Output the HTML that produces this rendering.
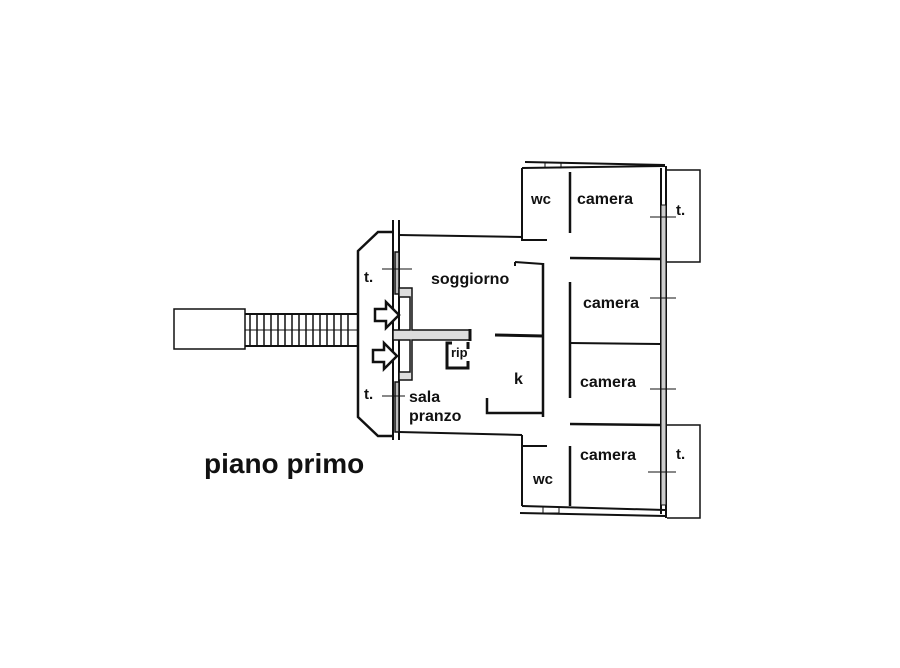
<!DOCTYPE html>
<html><head><style>
html,body{margin:0;padding:0;background:#fff;}
svg{display:block}
text{font-family:"Liberation Sans",sans-serif;font-weight:bold;fill:#111}
</style></head><body>
<svg width="900" height="668" viewBox="0 0 900 668" xmlns="http://www.w3.org/2000/svg">
<g stroke="#111" fill="none" stroke-width="2">
<!-- stairs -->
<rect x="174" y="309" width="71" height="40" stroke-width="1.5"/>
<line x1="245" y1="314" x2="358" y2="314"/>
<line x1="245" y1="346" x2="358" y2="346"/>
<line x1="245" y1="330" x2="358" y2="330" stroke-width="1"/>
<g stroke-width="1.5">
<line x1="250" y1="314" x2="250" y2="346"/><line x1="257" y1="314" x2="257" y2="346"/><line x1="264" y1="314" x2="264" y2="346"/><line x1="271" y1="314" x2="271" y2="346"/><line x1="278" y1="314" x2="278" y2="346"/><line x1="285" y1="314" x2="285" y2="346"/><line x1="292" y1="314" x2="292" y2="346"/><line x1="299" y1="314" x2="299" y2="346"/><line x1="306" y1="314" x2="306" y2="346"/><line x1="313" y1="314" x2="313" y2="346"/><line x1="320" y1="314" x2="320" y2="346"/><line x1="327" y1="314" x2="327" y2="346"/><line x1="334" y1="314" x2="334" y2="346"/><line x1="341" y1="314" x2="341" y2="346"/><line x1="348" y1="314" x2="348" y2="346"/>
</g>
<!-- left terrace -->
<polyline points="393,232 378,232 358,251 358,417 378,436 393,436" stroke-width="2.5"/>
<line x1="393" y1="220" x2="393" y2="440" stroke-width="2"/>
<line x1="399" y1="220" x2="399" y2="440" stroke-width="2"/>
<rect x="395" y="252" width="4" height="42" fill="#bbb" stroke-width="1.5"/>
<rect x="395" y="382" width="4" height="50" fill="#bbb" stroke-width="1.5"/>
<line x1="382" y1="269" x2="412" y2="269" stroke-width="1"/>
<line x1="382" y1="396" x2="405" y2="396" stroke-width="1"/>
<!-- recess walls -->
<polygon points="399,288 399,297 410,297 410,330 393,330 393,340 410,340 410,372 399,372 399,380 412,380 412,340 470,340 470,330 412,330 412,288" fill="#ddd" stroke-width="1.5"/>
<line x1="470" y1="329" x2="470" y2="341" stroke-width="3"/>
<!-- main walls -->
<polyline points="399,235 522,237 522,240 547,240"/>
<line x1="399" y1="432" x2="522" y2="435"/>
<line x1="522" y1="240" x2="522" y2="168"/>
<line x1="522" y1="168" x2="665" y2="166"/>
<line x1="525" y1="162" x2="665" y2="165"/>
<line x1="570" y1="172" x2="570" y2="233" stroke-width="2.5"/>
<line x1="661" y1="168" x2="661" y2="514"/>
<line x1="666" y1="166" x2="666" y2="518"/>
<rect x="661" y="205" width="5" height="300" fill="#ccc" stroke-width="1"/>
<polyline points="667,170 700,170 700,262 667,262" stroke-width="1.5"/>
<polyline points="667,425 700,425 700,518 667,518" stroke-width="1.5"/>
<line x1="570" y1="258" x2="660" y2="259" stroke-width="2.5"/>
<line x1="570" y1="343" x2="660" y2="344"/>
<line x1="570" y1="424" x2="660" y2="425" stroke-width="2.5"/>
<line x1="570" y1="282" x2="570" y2="398" stroke-width="2.5"/>
<line x1="515" y1="262" x2="543" y2="264"/>
<line x1="515" y1="262" x2="515" y2="266"/>
<line x1="543" y1="263" x2="543" y2="417" stroke-width="2.5"/>
<line x1="495" y1="335" x2="543" y2="336" stroke-width="3"/>
<polyline points="487,398 487,413 543,413" stroke-width="2.5"/>
<!-- rip -->
<path d="M468,342 L468,349 M468,361 L468,368 L447,368 L447,343 L452,343" stroke-width="3"/>
<!-- lower -->
<polyline points="522,435 522,446 547,446" />
<line x1="522" y1="446" x2="522" y2="506"/>
<line x1="570" y1="446" x2="570" y2="506" stroke-width="2.5"/>
<line x1="522" y1="506" x2="665" y2="510"/>
<line x1="520" y1="513" x2="665" y2="516"/>
<rect x="543" y="507" width="16" height="6" stroke-width="1"/>
<rect x="545" y="163" width="16" height="5" stroke-width="1"/>
<!-- window ticks -->
<g stroke-width="1">
<line x1="650" y1="217" x2="676" y2="217"/><line x1="650" y1="298" x2="676" y2="298"/>
<line x1="650" y1="389" x2="676" y2="389"/><line x1="648" y1="472" x2="676" y2="472"/>
</g>
<!-- arrows -->
<polygon points="375,309 386,309 386,302 399,315 386,328 386,321 375,321" stroke-width="2.5" fill="#fff"/>
<polygon points="373,350 384,350 384,343 397,356 384,369 384,362 373,362" stroke-width="2.5" fill="#fff"/>
</g>
<text x="364" y="282" font-size="15">t.</text>
<text x="364" y="399" font-size="15">t.</text>
<text x="431" y="284" font-size="16">soggiorno</text>
<text x="409" y="402" font-size="16">sala</text>
<text x="409" y="421" font-size="16">pranzo</text>
<text x="451" y="357" font-size="13" font-weight="normal">rip</text>
<text x="514" y="384" font-size="16">k</text>
<text x="531" y="204" font-size="15">wc</text>
<text x="533" y="484" font-size="15">wc</text>
<text x="577" y="204" font-size="16">camera</text>
<text x="583" y="308" font-size="16">camera</text>
<text x="580" y="387" font-size="16">camera</text>
<text x="580" y="460" font-size="16">camera</text>
<text x="676" y="215" font-size="15">t.</text>
<text x="676" y="459" font-size="15">t.</text>
<text x="204" y="473" font-size="28">piano primo</text>
</svg>
</body></html>
